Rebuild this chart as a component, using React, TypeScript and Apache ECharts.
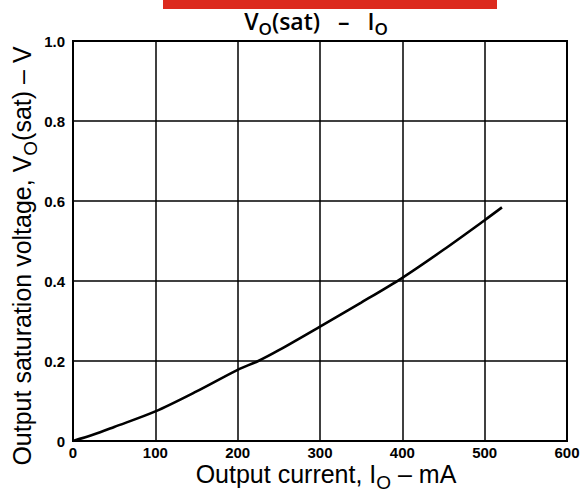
import React, { useEffect, useRef } from "react";
import * as echarts from "echarts";

const currentMA = [0, 25, 50, 100, 150, 200, 225, 250, 300, 350, 400, 450, 500, 521];
const voltageV = [0, 0.016, 0.035, 0.074, 0.124, 0.178, 0.2, 0.227, 0.286, 0.346, 0.408, 0.478, 0.552, 0.584];
const xTicks = [0, 100, 200, 300, 400, 500, 600];
const yTicks = [0, 0.2, 0.4, 0.6, 0.8, 1.0];

const titleText = "V{sub|O}(sat)   –   I{sub|O}";
const xName = "Output current, I{sub|O} – mA";
const yName = "Output saturation voltage, V{sub|O}(sat) – V";

export default function App() {
  const ref = useRef<HTMLDivElement>(null);
  useEffect(() => {
    if (!ref.current) return;
    const chart = echarts.init(ref.current, undefined, { renderer: "svg" });
    const tickFont = "'Liberation Sans', Arial, sans-serif";
    const nameFont = "'Liberation Sans', Arial, sans-serif";
    chart.setOption({
      animation: false,
      backgroundColor: "#ffffff",
      grid: { left: 73, top: 41, width: 494, height: 400, show: true, borderColor: "#000", borderWidth: 2 },
      xAxis: {
        type: "value",
        min: xTicks[0],
        max: xTicks[xTicks.length - 1],
        interval: 100,
        axisLine: { show: true, lineStyle: { color: "#000", width: 2 } },
        axisTick: { show: false },
        splitLine: { show: true, lineStyle: { color: "#000", width: 1.5 } },
        axisLabel: {
          color: "#000",
          fontFamily: tickFont,
          fontWeight: "bold",
          fontSize: 15,
          margin: 4,
          formatter: (v: number) => String(v),
        },
      },
      yAxis: {
        type: "value",
        min: yTicks[0],
        max: yTicks[yTicks.length - 1],
        interval: 0.2,
        axisLine: { show: true, lineStyle: { color: "#000", width: 2 } },
        axisTick: { show: false },
        splitLine: { show: true, lineStyle: { color: "#000", width: 1.5 } },
        axisLabel: {
          color: "#000",
          fontFamily: tickFont,
          fontWeight: "bold",
          fontSize: 15,
          margin: 8,
          formatter: (v: number) => (v === 0 ? "0" : v.toFixed(1)),
        },
      },
      graphic: [
        {
          type: "rect",
          shape: { x: 163, y: 0, width: 334, height: 9 },
          style: { fill: "#dc2a1e" },
        },
        {
          type: "text",
          x: 316,
          y: 21,
          style: {
            text: titleText,
            align: "center",
            verticalAlign: "middle",
            fill: "#000",
            fontFamily: "'Open Sans', 'Liberation Sans', sans-serif",
            fontWeight: 600,
            fontSize: 23,
            lineHeight: 32,
            rich: {
              sub: { fontFamily: "'Open Sans', sans-serif", fontWeight: 600, fontSize: 17, lineHeight: 17, verticalAlign: "bottom", fill: "#000" },
            },
          },
        },
        {
          type: "text",
          x: 326,
          y: 474,
          style: {
            text: xName,
            align: "center",
            verticalAlign: "middle",
            fill: "#000",
            fontFamily: nameFont,
            fontSize: 25,
            lineHeight: 35,
            rich: {
              sub: { fontFamily: nameFont, fontSize: 19, lineHeight: 19, verticalAlign: "bottom", fill: "#000" },
            },
          },
        },
        {
          type: "text",
          x: 22,
          y: 256,
          rotation: Math.PI / 2,
          style: {
            text: yName,
            align: "center",
            verticalAlign: "middle",
            fill: "#000",
            fontFamily: nameFont,
            fontSize: 25,
            lineHeight: 35,
            rich: {
              sub: { fontFamily: nameFont, fontSize: 19, lineHeight: 19, verticalAlign: "bottom", fill: "#000" },
            },
          },
        },
      ],
      series: [
        {
          type: "line",
          data: currentMA.map((x, i) => [x, voltageV[i]]),
          smooth: 0.3,
          showSymbol: false,
          lineStyle: { color: "#000", width: 2.6 },
          z: 5,
        },
      ],
    });
    return () => chart.dispose();
  }, []);
  return (
    <div
      ref={ref}
      style={{ position: "fixed", left: 0, top: 0, width: 587, height: 495, background: "#fff" }}
    />
  );
}
